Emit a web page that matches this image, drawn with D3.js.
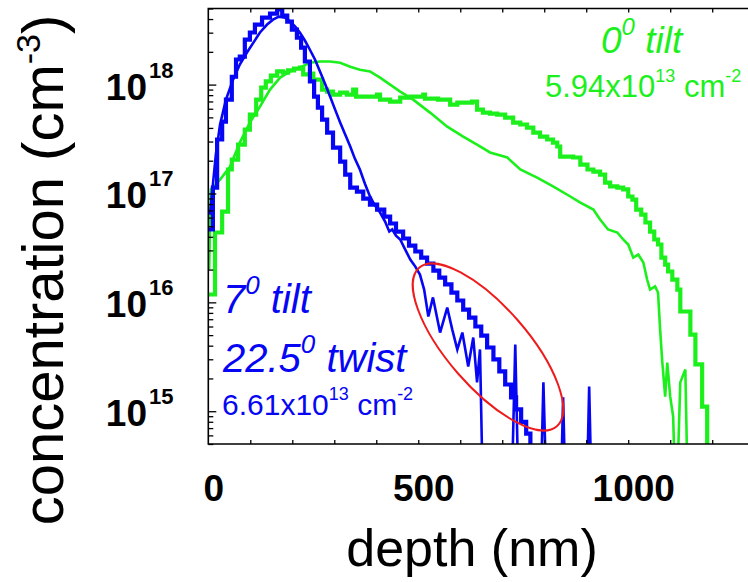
<!DOCTYPE html>
<html><head><meta charset="utf-8">
<script src="https://cdn.jsdelivr.net/npm/d3@7"></script>
<style>body{margin:0;background:#fff} svg{display:block;font-family:"Liberation Sans",Arial,sans-serif}</style>
</head><body>
<svg id="c" width="748" height="582"></svg>
<script>
// ---- data (depth in nm, concentration in cm^-3) ----
const blueHistDepth = [0,11,21,33,42,56,66,75,87,99,111,128,147,164,176,188,199,211,221,230,242,252,261,271,283,297,314,326,338,354,369,385,402,419,433,447,464,478,493,507,521,536,550,564,579,593,607,621,636,650,664,679,693,707,721,733,745,757,767];
const blueHistConc = [4.67e16,1.13e17,3.13e17,4.57e17,7.28e17,1.18e18,1.70e18,1.81e18,2.59e18,3.01e18,3.56e18,4.12e18,4.49e18,4.9e18,4.30e18,3.79e18,3.20e18,2.70e18,2.19e18,1.63e18,1.07e18,7.76e17,6.15e17,4.77e17,3.62e17,2.64e17,1.96e17,1.49e17,1.13e17,1.04e17,8.97e16,7.91e16,7.11e16,6.14e16,5.30e16,4.47e16,3.86e16,3.32e16,2.93e16,2.58e16,2.27e16,1.96e16,1.69e16,1.46e16,1.23e16,1.04e16,8.59e15,7.25e15,6.0e15,4.95e15,3.85e15,2.99e15,2.32e15,1.76e15,1.34e15,1.04e15,8.0e14,6.24e14,1e14];

const blueSimDepth = [4,11,18,28,42,59,75,92,109,123,140,154,168,183,195,207,218,230,242,254,266,278,290,302,314,326,338,349,361,373,385,397,409,421,431,438,447,457,469,481,493,504,514,524,535,552,569,581,593,605,619,631,640,647,655,721,731,740,790,798,807,838,845,852,900,907,914,933];
const blueSimConc = [6.4e16,1.21e17,2.28e17,4.30e17,7.28e17,1.11e18,1.53e18,1.97e18,2.48e18,3.01e18,3.56e18,3.95e18,4.21e18,4.12e18,3.79e18,3.41e18,3.01e18,2.54e18,2.09e18,1.70e18,1.32e18,1.02e18,7.76e17,5.89e17,4.48e17,3.48e17,2.70e17,2.09e17,1.66e17,1.23e17,9.38e16,7.74e16,6.68e16,5.52e16,4.47e16,4.67e16,4.10e16,3.78e16,3.05e16,2.47e16,2.13e16,1.80e16,1.31e16,7.41e15,1.11e16,5.28e15,8.95e15,5.62e15,3.69e15,5.28e15,2.57e15,4.75e15,1.84e15,3.69e15,1e14,1e14,4.09e15,1e14,1e14,1.84e15,1e14,1e14,1.34e15,1e14,1e14,1.69e15,1e14,1e14];

const greenHistDepth = [0,16,33,47,56,71,87,99,114,126,137,149,164,178,190,204,218,226,242,250,271,283,297,314,330,345,352,402,409,433,457,481,512,516,547,576,593,628,640,654,671,688,707,726,743,759,774,790,807,821,831,838,869,886,903,917,933,945,957,974,988,1000,1010,1019,1031,1041,1052,1062,1071,1079,1088,1095,1105,1117,1124,1148,1160,1176,1188];
const greenHistConc = [1.18e16,4.38e16,6.82e16,1.66e17,2.05e17,2.81e17,3.86e17,5.30e17,7.28e17,9.38e17,1.07e18,1.21e18,1.32e18,1.29e18,1.35e18,1.40e18,1.43e18,1.24e18,1.26e18,1.11e18,9.0e17,8.63e17,8.09e17,8.45e17,8.09e17,9.0e17,7.76e17,8.09e17,7.28e17,6.98e17,7.60e17,7.76e17,8.09e17,7.43e17,7.28e17,6.55e17,6.84e17,6.98e17,5.89e17,5.53e17,5.42e17,5.30e17,4.98e17,4.48e17,4.30e17,4.03e17,3.62e17,3.33e17,3.13e17,2.93e17,2.70e17,2.18e17,2.14e17,1.84e17,1.66e17,1.59e17,1.49e17,1.26e17,1.16e17,1.13e17,1.09e17,9.38e16,8.79e16,7.11e16,6.40e16,5.41e16,4.47e16,3.78e16,3.40e16,2.58e16,2.22e16,1.92e16,1.62e16,1.31e16,8.24e15,5.06e15,2.69e15,1.10e15,1e14];

const greenSimDepth = [2,6,28,52,75,99,123,147,171,195,218,242,266,290,314,338,361,385,409,433,457,488,528,569,607,640,671,712,743,783,821,862,886,917,933,952,974,988,1000,1012,1024,1036,1045,1052,1064,1071,1076,1081,1088,1093,1100,1107,1114,1124,1136,1143];
const greenSimConc = [2.0e16,1.09e17,1.34e17,1.77e17,2.93e17,4.48e17,6.28e17,9.0e17,1.16e18,1.32e18,1.43e18,1.59e18,1.63e18,1.63e18,1.59e18,1.46e18,1.37e18,1.32e18,1.16e18,1.0e18,8.63e17,7.28e17,5.53e17,4.11e17,3.33e17,2.81e17,2.38e17,2.14e17,1.66e17,1.40e17,1.16e17,9.38e16,8.24e16,7.11e16,5.76e16,4.67e16,4.38e16,3.78e16,3.40e16,2.58e16,2.75e16,2.32e16,1.62e16,1.31e16,1.40e16,1.23e16,5.62e15,2.86e15,1.36e15,2.80e15,1.36e15,8.93e14,1e14,1.84e15,2.42e15,1e14];

const xTickValues = [100,200,300,400,500,600,700,800,900,1000,1100,1200];
const xLabelValues = [0,500,1000];
const yDecades = [15,16,17,18];

// ---- layout ----
const BLUE = "#0606f5", GREEN = "#1cf01c", RED = "#ee1c1c";
const L = 208.3, R = 750, T = 8.5, B = 444;
const svg = d3.select("#c");
const x = d3.scaleLinear().domain([0,1290]).range([L,R]);
const y = d3.scaleLog().domain([5e14,5e18]).range([B,T]);

svg.append("defs").append("clipPath").attr("id","clip")
  .append("rect").attr("x",L).attr("y",T).attr("width",R-L).attr("height",B-T);

const plot = svg.append("g").attr("clip-path","url(#clip)");
function series(depth, conc, color, width, curve){
  const pts = depth.map((d,i)=>[d,conc[i]]);
  const line = d3.line().x(d=>x(d[0])).y(d=>y(Math.max(d[1],1e13))).curve(curve);
  plot.append("path").datum(pts).attr("d",line).attr("fill","none")
    .attr("stroke",color).attr("stroke-width",width).attr("stroke-linejoin","miter");
}
series(greenSimDepth, greenSimConc, GREEN, 2.6, d3.curveLinear);
series(greenHistDepth, greenHistConc, GREEN, 4.2, d3.curveStepAfter);
series(blueSimDepth, blueSimConc, BLUE, 2.6, d3.curveLinear);
series(blueHistDepth, blueHistConc, BLUE, 4.2, d3.curveStepAfter);

// ellipse highlight
svg.append("ellipse").attr("cx",488).attr("cy",347).attr("rx",105).attr("ry",40)
  .attr("transform","rotate(49,488,347)").attr("fill","none").attr("stroke",RED).attr("stroke-width",2);

// ---- axes ----
const gB = svg.append("g").attr("transform",`translate(0,${B})`)
  .call(d3.axisBottom(x).tickValues(xTickValues).tickSize(-4).tickFormat(""));
const gT = svg.append("g").attr("transform",`translate(0,${T})`)
  .call(d3.axisTop(x).tickValues(xTickValues).tickSize(-4).tickFormat(""));
const minorVals = [], majorVals = [];
for (let e=14;e<=18;e++){ for (let m=1;m<=9;m++){ const v=m*Math.pow(10,e); if(v<5e14||v>5e18) continue; (m===1?majorVals:minorVals).push(v);} }
const gL1 = svg.append("g").attr("transform",`translate(${L},0)`)
  .call(d3.axisLeft(y).tickValues(minorVals).tickSize(-5).tickFormat(""));
const gL2 = svg.append("g").attr("transform",`translate(${L},0)`)
  .call(d3.axisLeft(y).tickValues(majorVals).tickSize(-8).tickFormat(""));
[gB,gT,gL1,gL2].forEach(g=>{ g.select(".domain").remove(); g.selectAll("line").attr("stroke","#000").attr("stroke-width",1.3); });
svg.append("path").attr("d",`M${R},${T}H${L}V${B}H${R}`).attr("fill","none").attr("stroke","#000").attr("stroke-width",1.6);

// tick labels
svg.append("g").selectAll("text").data(xLabelValues).join("text")
  .attr("x",d=>x(d)+5.5).attr("y",501).attr("text-anchor","middle")
  .attr("font-size",37).attr("font-weight","bold").text(d=>d);
const yl = svg.append("g").attr("font-weight","bold");
yDecades.forEach(e=>{
  const yy = y(Math.pow(10,e));
  yl.append("text").attr("x",147).attr("y",yy+15).attr("text-anchor","end").attr("font-size",37).text("10");
  yl.append("text").attr("x",149).attr("y",yy-7).attr("font-size",22).text(String(e));
});

// axis titles
svg.append("text").attr("x",472).attr("y",566).attr("text-anchor","middle").attr("font-size",52).text("depth (nm)");
const yt = svg.append("text").attr("transform","translate(63,270) rotate(-90)").attr("text-anchor","middle").attr("font-size",58);
yt.append("tspan").text("concentration (cm");
yt.append("tspan").attr("font-size",34).attr("dy",-23).text("-3");
yt.append("tspan").attr("dy",23).text(")");

// annotations
function sup(t, parts){
  parts.forEach(p=>{
    const s=t.append("tspan").text(p.t);
    if(p.s){ s.attr("font-size",p.s); }
    if(p.dy){ s.attr("dy",p.dy); }
  });
}
const g0 = svg.append("text").attr("x",601).attr("y",53).attr("font-size",37).attr("font-style","italic").attr("fill",GREEN);
sup(g0,[{t:"0"},{t:"0",s:24,dy:-18},{t:" tilt",dy:18}]);
const g1 = svg.append("text").attr("x",545).attr("y",97).attr("font-size",31).attr("fill",GREEN);
sup(g1,[{t:"5.94x10"},{t:"13",s:18,dy:-15},{t:" cm",dy:15},{t:"-2",s:18,dy:-15}]);
const b0 = svg.append("text").attr("x",223).attr("y",313).attr("font-size",40).attr("font-style","italic").attr("fill",BLUE);
sup(b0,[{t:"7"},{t:"0",s:26,dy:-19},{t:" tilt",dy:19}]);
const b1 = svg.append("text").attr("x",223).attr("y",372).attr("font-size",40).attr("font-style","italic").attr("fill",BLUE);
sup(b1,[{t:"22.5"},{t:"0",s:26,dy:-19},{t:" twist",dy:19}]);
const b2 = svg.append("text").attr("x",222).attr("y",415).attr("font-size",30).attr("fill",BLUE);
sup(b2,[{t:"6.61x10"},{t:"13",s:18,dy:-15},{t:" cm",dy:15},{t:"-2",s:18,dy:-15}]);
</script>
</body></html>
